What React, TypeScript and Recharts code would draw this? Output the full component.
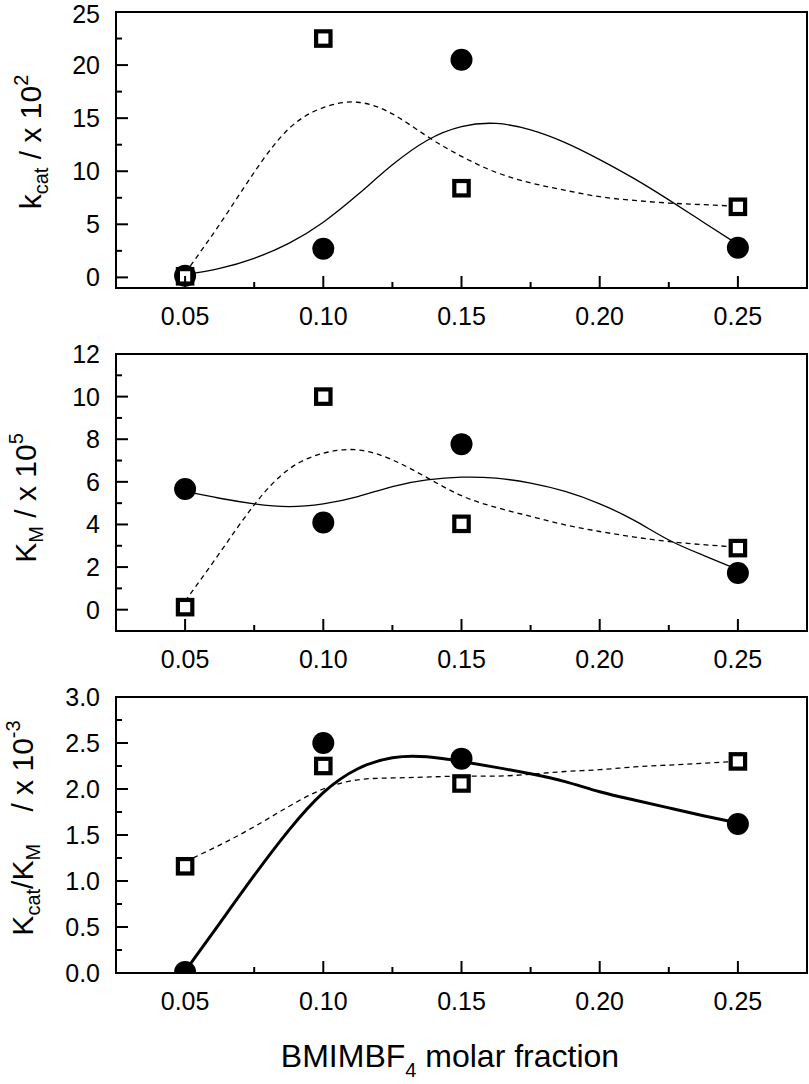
import React from "react";
import { ComposedChart, XAxis, YAxis, Line, Scatter, ReferenceArea } from "recharts";

const FONT = "'Liberation Sans', Arial, Helvetica, sans-serif";

const MARK_X = [0.05, 0.1, 0.15, 0.25];
const CURVE_X = [
  0.05, 0.0625, 0.075, 0.0875, 0.1, 0.1125, 0.125, 0.1375, 0.15,
  0.1625, 0.175, 0.1875, 0.2, 0.2125, 0.225, 0.2375, 0.25,
];

const X_DOMAIN = [0.025, 0.275];
const X_MAJOR = [0.05, 0.1, 0.15, 0.2, 0.25];
const X_MINOR = [0.075, 0.125, 0.175, 0.225];

// kcat / x 10^2
const KCAT_CIRCLES = [0.15, 2.7, 20.5, 2.8];
const KCAT_SQUARES = [0.1, 22.5, 8.4, 6.65];
const KCAT_SOLID = [0.25, 0.85, 1.8, 3.2, 5.2, 7.8, 10.6, 12.9, 14.2, 14.5, 13.9, 12.7, 11.1, 9.3, 7.3, 5.2, 3.1];
const KCAT_DASHED = [0.4, 5.0, 9.9, 14.0, 16.0, 16.5, 15.4, 13.3, 11.4, 9.9, 8.9, 8.2, 7.6, 7.25, 7.0, 6.85, 6.7];
const KCAT_Y_MAJOR = [0, 5, 10, 15, 20, 25];
const KCAT_Y_MINOR = [2.5, 7.5, 12.5, 17.5, 22.5];

// KM / x 10^5
const KM_CIRCLES = [5.66, 4.09, 7.77, 1.72];
const KM_SQUARES = [0.12, 10.0, 4.03, 2.89];
const KM_SOLID = [5.55, 5.23, 4.97, 4.84, 4.97, 5.31, 5.78, 6.09, 6.22, 6.17, 5.94, 5.55, 4.97, 4.19, 3.27, 2.55, 1.88];
const KM_DASHED = [0.4, 2.66, 4.92, 6.59, 7.34, 7.5, 7.03, 6.2, 5.35, 4.8, 4.38, 3.98, 3.67, 3.41, 3.2, 3.05, 2.94];
const KM_Y_MAJOR = [0, 2, 4, 6, 8, 10, 12];
const KM_Y_MINOR = [1, 3, 5, 7, 9, 11];

// Kcat/KM / x 10^-3
const RATIO_CIRCLES = [0.01, 2.5, 2.33, 1.62];
const RATIO_SQUARES = [1.16, 2.25, 2.06, 2.3];
const RATIO_SOLID = [0.02, 0.54, 1.06, 1.55, 1.96, 2.22, 2.34, 2.35, 2.3, 2.235, 2.165, 2.08, 1.97, 1.88, 1.795, 1.71, 1.63];
const RATIO_DASHED = [1.21, 1.39, 1.59, 1.81, 2.0, 2.1, 2.12, 2.13, 2.14, 2.14, 2.16, 2.19, 2.21, 2.24, 2.26, 2.28, 2.3];
const RATIO_Y_MAJOR = [0, 0.5, 1, 1.5, 2, 2.5, 3];
const RATIO_Y_MINOR = [0.25, 0.75, 1.25, 1.75, 2.25, 2.75];

const PAD = 14; // extra room above and below each chart so tick texts stay inside its svg
const X_AXIS_H = 36;

function toPoints(xs: number[], ys: number[]) {
  return xs.map((x, i) => ({ x, y: ys[i] }));
}

function isIn(list: number[], v: number) {
  return list.some((m) => Math.abs(m - v) < 1e-9);
}

function makeXTick(major: number[]) {
  return (props: any) => {
    const { x, y, payload } = props;
    const v = payload.value as number;
    const big = isIn(major, v);
    return (
      <g>
        <line x1={x} x2={x} y1={y} y2={y - (big ? 12 : 6)} stroke="#000" strokeWidth={2} />
        {big && (
          <text x={x} y={y + 28} dy="0.36em" textAnchor="middle" fontSize={25} fontFamily={FONT} fill="#000">
            {v.toFixed(2)}
          </text>
        )}
      </g>
    );
  };
}

function makeYTick(major: number[], digits: number, minLabelY: number) {
  return (props: any) => {
    const { x, y, payload } = props;
    const v = payload.value as number;
    const big = isIn(major, v);
    return (
      <g>
        <line x1={x} x2={x + (big ? 12 : 6)} y1={y} y2={y} stroke="#000" strokeWidth={2} />
        {big && (
          <text
            x={x - 16}
            y={Math.max(y, minLabelY)}
            dy="0.36em"
            textAnchor="end"
            fontSize={25}
            fontFamily={FONT}
            fill="#000"
          >
            {v.toFixed(digits)}
          </text>
        )}
      </g>
    );
  };
}

// filled circles are cut at the bottom of the frame, as in the original
function makeCircleShape(id: string, plotBottom: number) {
  return (p: any) => (
    <g>
      <defs>
        <clipPath id={id}>
          <rect x={0} y={0} width={809} height={plotBottom} />
        </clipPath>
      </defs>
      <circle cx={p.cx} cy={p.cy} r={11} fill="#000" clipPath={`url(#${id})`} />
    </g>
  );
}

const squareShape = (p: any) => (
  <rect x={p.cx - 7.2} y={p.cy - 7.2} width={14.4} height={14.4} fill="#fff" stroke="#000" strokeWidth={4.2} />
);

interface PanelProps {
  id: string;
  top: number;
  height: number;
  marginTop: number;
  marginBottom: number;
  yDomain: number[];
  yMajor: number[];
  yMinor: number[];
  yDigits: number;
  minLabelY?: number;
  circles: number[];
  squares: number[];
  solid: number[];
  dashed: number[];
  solidWidth: number;
}

function Panel(p: PanelProps) {
  const h = p.height + 2 * PAD;
  const plotBottom = h - p.marginBottom - PAD - X_AXIS_H;
  return (
    <div style={{ position: "absolute", left: 0, top: p.top - PAD, width: 809, height: h }}>
      <ComposedChart
        width={809}
        height={h}
        margin={{ top: p.marginTop + PAD, right: 2, bottom: p.marginBottom + PAD, left: 16 }}
      >
        <XAxis
          type="number"
          dataKey="x"
          domain={X_DOMAIN}
          ticks={[...X_MAJOR, ...X_MINOR]}
          interval={0}
          tick={makeXTick(X_MAJOR)}
          tickLine={false}
          axisLine={false}
          tickSize={0}
          tickMargin={0}
          height={X_AXIS_H}
          allowDataOverflow
        />
        <YAxis
          type="number"
          dataKey="y"
          domain={p.yDomain}
          ticks={[...p.yMajor, ...p.yMinor]}
          interval={0}
          tick={makeYTick(p.yMajor, p.yDigits, p.minLabelY ?? 0)}
          tickLine={false}
          axisLine={false}
          tickSize={0}
          tickMargin={0}
          width={100}
          allowDataOverflow
        />
        <Line
          data={toPoints(CURVE_X, p.solid)}
          dataKey="y"
          type="natural"
          stroke="#000"
          strokeWidth={p.solidWidth}
          dot={false}
          activeDot={false}
          isAnimationActive={false}
        />
        <Line
          data={toPoints(CURVE_X, p.dashed)}
          dataKey="y"
          type="natural"
          stroke="#000"
          strokeWidth={1.3}
          strokeDasharray="5 4"
          dot={false}
          activeDot={false}
          isAnimationActive={false}
        />
        <Scatter
          data={toPoints(MARK_X, p.circles)}
          dataKey="y"
          shape={makeCircleShape(`clip-${p.id}`, plotBottom)}
          isAnimationActive={false}
        />
        <Scatter data={toPoints(MARK_X, p.squares)} dataKey="y" shape={squareShape} isAnimationActive={false} />
        <ReferenceArea
          x1={X_DOMAIN[0]}
          x2={X_DOMAIN[1]}
          y1={p.yDomain[0]}
          y2={p.yDomain[1]}
          fill="none"
          stroke="#000"
          strokeWidth={2}
          ifOverflow="visible"
        />
      </ComposedChart>
    </div>
  );
}

export default function App() {
  return (
    <div
      style={{
        position: "absolute",
        left: 0,
        top: 0,
        width: 809,
        height: 1084,
        overflow: "hidden",
        background: "#fff",
        fontFamily: FONT,
      }}
    >
      <Panel
        id="kcat"
        top={0}
        height={330}
        marginTop={12}
        marginBottom={6}
        yDomain={[-1, 25]}
        yMajor={KCAT_Y_MAJOR}
        yMinor={KCAT_Y_MINOR}
        yDigits={0}
        minLabelY={PAD + 14}
        circles={KCAT_CIRCLES}
        squares={KCAT_SQUARES}
        solid={KCAT_SOLID}
        dashed={KCAT_DASHED}
        solidWidth={1.3}
      />
      <Panel
        id="km"
        top={330}
        height={340}
        marginTop={24}
        marginBottom={3}
        yDomain={[-1, 12]}
        yMajor={KM_Y_MAJOR}
        yMinor={KM_Y_MINOR}
        yDigits={0}
        circles={KM_CIRCLES}
        squares={KM_SQUARES}
        solid={KM_SOLID}
        dashed={KM_DASHED}
        solidWidth={1.3}
      />
      <Panel
        id="ratio"
        top={670}
        height={340}
        marginTop={27}
        marginBottom={1}
        yDomain={[0, 3]}
        yMajor={RATIO_Y_MAJOR}
        yMinor={RATIO_Y_MINOR}
        yDigits={1}
        circles={RATIO_CIRCLES}
        squares={RATIO_SQUARES}
        solid={RATIO_SOLID}
        dashed={RATIO_DASHED}
        solidWidth={3}
      />
      <svg
        width={809}
        height={1084}
        style={{ position: "absolute", left: 0, top: 0, pointerEvents: "none" }}
        fontFamily={FONT}
        fill="#000"
      >
        <text x={41} y={142} transform="rotate(-90 41 142)" textAnchor="middle" fontSize={30}>
          k<tspan fontSize={20} dy={7}>cat</tspan>
          <tspan dy={-7}> / x 10</tspan>
          <tspan fontSize={20} dy={-13}>2</tspan>
        </text>
        <text x={36} y={498} transform="rotate(-90 36 498)" textAnchor="middle" fontSize={30}>
          K<tspan fontSize={20} dy={7}>M</tspan>
          <tspan dy={-7}> / x 10</tspan>
          <tspan fontSize={20} dy={-13}>5</tspan>
        </text>
        <text x={33} y={828} transform="rotate(-90 33 828)" textAnchor="middle" fontSize={30}>
          K<tspan fontSize={20} dy={7}>cat</tspan>
          <tspan dy={-7}>/K</tspan>
          <tspan fontSize={20} dy={7}>M</tspan>
          <tspan dy={-7} dx={24}> / x 10</tspan>
          <tspan fontSize={20} dy={-13}>-3</tspan>
        </text>
        <text x={450} y={1067} textAnchor="middle" fontSize={32}>
          BMIMBF<tspan fontSize={20} dy={10}>4</tspan>
          <tspan dy={-10}> molar fraction</tspan>
        </text>
      </svg>
    </div>
  );
}
